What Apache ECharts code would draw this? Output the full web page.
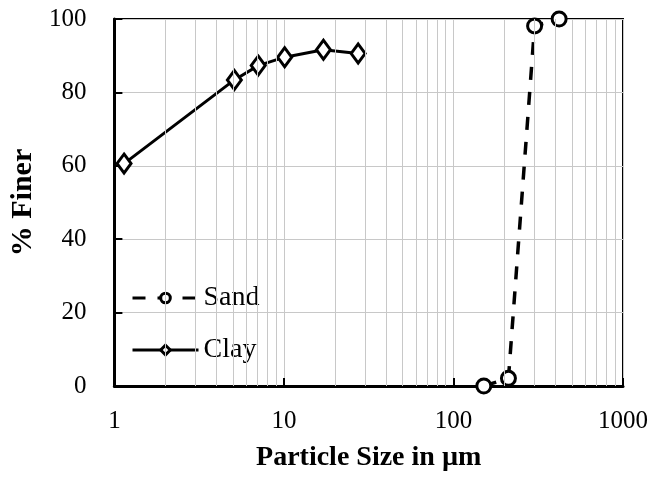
<!DOCTYPE html>
<html>
<head>
<meta charset="utf-8">
<script src="https://cdn.jsdelivr.net/npm/echarts@6/dist/echarts.min.js"></script>
<style>
  html, body { margin: 0; padding: 0; background: #fff; }
  #chart { width: 654px; height: 479px; }
</style>
</head>
<body>
<div id="chart"></div>
<script>
// Particle size distribution: % finer vs particle size (log scale)
const sandSize  = [151, 211, 301, 420];
const sandFiner = [0, 2.1, 98.1, 100];
const claySize  = [1.14, 5.1, 7.05, 10.1, 17.1, 27.4];
const clayFiner = [60.6, 83.4, 87.3, 89.6, 91.6, 90.6];
// intermediate log-decade grid positions (2..9 in each decade)
const minorGrid = [2, 3, 4, 5, 6, 7, 8, 9, 20, 30, 40, 50, 60, 70, 80, 90, 200, 300, 400, 500, 600, 700, 800, 900];

const serif = '"Liberation Serif", "Times New Roman", serif';
const pair = (xs, ys) => xs.map((x, i) => [x, ys[i]]);

const chart = echarts.init(document.getElementById('chart'), null, { renderer: 'canvas' });
chart.setOption({
  animation: false,
  backgroundColor: '#fff',
  grid: {
    left: 113, top: 19, right: 31, bottom: 93,
    show: true, borderColor: '#000', borderWidth: 2, backgroundColor: 'transparent'
  },
  legend: {
    data: ['Sand', 'Clay'],
    orient: 'vertical',
    left: 126, top: 279,
    itemWidth: 66, itemHeight: 12, itemGap: 24,
    lineStyle: { width: 3 },
    itemStyle: { borderWidth: 3 },
    textStyle: { fontFamily: serif, fontSize: 28, color: '#000' }
  },
  xAxis: {
    type: 'log', logBase: 10, min: 1, max: 1000,
    name: 'Particle Size in µm',
    nameLocation: 'middle', nameGap: 58,
    nameTextStyle: { fontFamily: serif, fontSize: 28, fontWeight: 'bold', color: '#000' },
    axisLine: { show: true, lineStyle: { color: '#000', width: 3 } },
    axisTick: { show: true, inside: true, length: 8, lineStyle: { color: '#000', width: 2 } },
    axisLabel: { fontFamily: serif, fontSize: 25, color: '#000', margin: 23, formatter: v => String(v) },
    splitLine: { show: true, lineStyle: { color: '#c8c8c8', width: 1 } }
  },
  yAxis: {
    type: 'value', min: 0, max: 100, interval: 20,
    name: '% Finer',
    nameLocation: 'middle', nameGap: 76, nameRotate: 90,
    nameTextStyle: { fontFamily: serif, fontSize: 30, fontWeight: 'bold', color: '#000' },
    axisLine: { show: true, lineStyle: { color: '#000', width: 3 } },
    axisTick: { show: true, inside: true, length: 8, lineStyle: { color: '#000', width: 2 } },
    axisLabel: { fontFamily: serif, fontSize: 25, color: '#000', margin: 28 },
    splitLine: { show: true, lineStyle: { color: '#c8c8c8', width: 1 } }
  },
  series: [
    {
      name: 'minor-grid',
      type: 'line',
      data: [],
      z: 1,
      silent: true,
      markLine: {
        silent: true,
        symbol: 'none',
        label: { show: false },
        lineStyle: { color: '#c8c8c8', width: 1, type: 'solid' },
        data: minorGrid.map(v => ({ xAxis: v }))
      }
    },
    {
      name: 'Sand',
      type: 'line',
      data: pair(sandSize, sandFiner),
      clip: false,
      symbol: 'circle',
      symbolSize: 14,
      lineStyle: { color: '#000', width: 3.5, type: [13, 12] },
      itemStyle: { color: '#fff', borderColor: '#000', borderWidth: 3 },
      z: 3
    },
    {
      name: 'Clay',
      type: 'line',
      data: pair(claySize, clayFiner),
      clip: false,
      symbol: 'diamond',
      symbolSize: [14, 19],
      lineStyle: { color: '#000', width: 3 },
      itemStyle: { color: '#fff', borderColor: '#000', borderWidth: 3 },
      z: 3
    }
  ]
});
</script>
</body>
</html>
